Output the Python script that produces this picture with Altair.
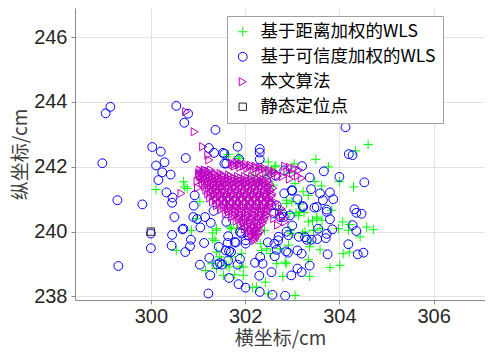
import altair as alt
import pandas as pd

series_names = ["基于距离加权的WLS", "基于可信度加权的WLS", "本文算法", "静态定位点"]
series_colors = ["#00ff00", "#0000ff", "#bf00bf", "#262626"]
plus_path = "M-1,0L1,0M0,-1L0,1"
series_shapes = [plus_path, "circle", "triangle-right", "square"]

x_ticks = [300, 302, 304, 306]
y_ticks = [238, 240, 242, 244, 246]

# 基于距离加权的WLS (green +)
green_x = [304.61, 304.34, 303.50, 303.77, 304.00, 304.30, 303.48, 303.62, 303.04, 302.65,
           302.48, 302.59, 302.94, 303.23, 302.88, 303.08, 303.25, 303.43, 303.63, 303.84,
           304.07, 304.19, 304.58, 304.72, 304.44, 304.08, 304.21, 304.01, 303.80, 303.59,
           303.37, 303.34, 303.37, 303.06, 302.87, 302.80, 302.67, 302.43, 302.16, 301.96,
           301.78, 301.66, 301.39, 301.16, 301.30, 301.46, 301.70, 301.92, 301.36, 301.31,
           301.39, 300.86, 300.54, 300.11, 300.69, 300.77, 301.04, 300.96, 301.64, 301.89,
           302.17, 302.28, 302.41, 302.32, 302.46, 302.53, 302.74, 302.98, 303.22, 303.45,
           303.16, 303.34, 302.99, 303.13, 303.52, 303.34, 304.22, 303.98, 303.59, 303.27,
           303.38, 302.85, 302.92, 301.85, 302.35, 301.31, 301.39, 301.71, 301.82, 301.50,
           301.60, 301.89, 301.54, 301.96, 302.35, 302.24, 302.49, 303.06, 302.88, 302.95,
           303.16, 302.74, 303.52, 302.95, 303.45, 300.72, 301.39, 301.68, 302.56, 302.63,
           302.49, 301.61]
green_y = [242.69, 242.49, 242.23, 242.00, 241.54, 241.38, 241.54, 241.41, 242.09, 242.03,
           241.75, 241.43, 241.81, 241.23, 240.97, 240.58, 240.59, 240.35, 240.35, 240.66,
           240.30, 240.04, 240.14, 240.06, 239.84, 239.32, 239.37, 238.96, 238.89, 239.44,
           239.53, 239.13, 238.62, 238.03, 239.01, 238.62, 239.01, 238.44, 238.27, 238.91,
           238.67, 238.91, 238.86, 238.80, 239.01, 239.22, 239.22, 239.32, 239.73, 239.96,
           240.09, 240.04, 239.42, 241.30, 241.54, 241.33, 240.92, 240.40, 242.38, 242.26,
           241.74, 241.54, 240.04, 239.63, 239.47, 239.32, 239.47, 239.94, 239.94, 240.04,
           240.85, 241.12, 240.92, 240.50, 240.45, 240.30, 240.22, 240.09, 240.09, 239.99,
           239.68, 239.06, 239.58, 242.31, 241.98, 239.78, 239.37, 240.09, 240.09, 239.11,
           238.96, 238.91, 238.65, 238.65, 239.42, 238.29, 238.08, 241.48, 240.87, 240.56,
           240.61, 240.66, 240.40, 240.04, 240.04, 241.38, 240.04, 240.14, 241.89, 242.00,
           242.15, 242.31]

# 基于可信度加权的WLS (blue o)
blue_x = [298.97, 299.04, 299.14, 299.29, 299.82, 299.31, 300.00, 300.00, 300.03, 300.21,
          300.11, 300.29, 300.24, 300.16, 300.42, 300.33, 300.46, 300.45, 300.50, 300.67,
          300.45, 300.44, 300.73, 300.83, 300.85, 300.54, 300.79, 300.71, 301.37, 300.74,
          301.23, 301.34, 301.04, 301.14, 300.93, 300.91, 300.98, 301.05, 301.13, 301.24,
          301.04, 301.26, 301.22, 301.41, 301.46, 301.44, 301.56, 301.56, 301.60, 301.84,
          301.87, 301.27, 301.33, 301.60, 301.64, 301.66, 301.70, 301.59, 301.66, 301.86,
          302.01, 301.89, 301.84, 301.80, 301.92, 302.01, 302.07, 302.01, 302.31, 302.31,
          302.31, 302.21, 302.32, 302.37, 302.30, 302.31, 302.58, 302.85, 302.56, 302.63,
          302.67, 302.71, 302.62, 302.48, 302.87, 302.91, 302.98, 303.11, 303.20, 303.37,
          303.11, 303.20, 303.00, 303.14, 303.31, 303.41, 303.53, 303.11, 303.22, 303.00,
          302.83, 302.83, 302.82, 303.21, 303.37, 303.40, 303.47, 303.59, 303.65, 303.67,
          303.73, 303.80, 303.80, 303.87, 303.85, 303.73, 303.71, 303.75, 304.00, 304.13,
          304.20, 304.28, 304.53, 304.32, 304.36, 304.47, 304.28, 304.36, 304.19, 304.39,
          304.51, 302.65, 302.45, 302.61, 302.79, 302.56, 301.51, 301.63, 301.64, 301.78,
          301.89, 301.53, 300.90, 301.15, 300.69, 302.99, 302.67, 302.74, 302.95, 303.23,
          303.52, 303.73, 303.55, 303.27, 302.92, 302.70, 302.88]
blue_y = [242.11, 243.65, 243.85, 240.97, 240.84, 238.94, 239.94, 239.49, 242.61, 242.47,
          242.04, 242.14, 241.83, 241.59, 241.76, 241.21, 241.05, 240.89, 240.45, 240.07,
          239.90, 239.57, 239.37, 239.55, 239.75, 243.88, 243.64, 243.36, 243.14, 242.27,
          242.58, 242.43, 241.74, 241.84, 241.12, 240.80, 240.39, 240.13, 239.65, 239.19,
          238.98, 238.65, 238.09, 238.99, 239.03, 239.53, 242.40, 242.10, 242.10, 242.62,
          242.24, 240.27, 240.64, 240.30, 239.86, 239.40, 239.37, 239.42, 238.57, 238.38,
          238.27, 239.16, 238.98, 239.66, 239.94, 239.73, 239.89, 239.63, 242.55, 242.44,
          242.23, 239.04, 239.22, 239.01, 238.64, 238.14, 238.05, 238.02, 238.75, 239.24,
          239.44, 239.84, 239.63, 239.67, 239.39, 239.35, 238.65, 238.86, 238.75, 238.95,
          239.42, 239.32, 240.19, 239.84, 239.75, 239.75, 239.77, 241.00, 240.79, 241.26,
          241.89, 241.18, 240.45, 242.02, 241.67, 241.31, 240.74, 241.18, 240.97, 241.86,
          240.68, 240.38, 241.21, 241.00, 240.07, 239.93, 239.80, 239.30, 241.69, 243.22,
          242.39, 242.36, 241.52, 240.69, 240.58, 240.55, 240.20, 240.02, 239.61, 239.30,
          239.35, 241.72, 241.59, 240.56, 240.56, 240.81, 238.98, 239.65, 239.11, 239.68,
          239.99, 242.43, 240.45, 240.45, 240.09, 241.28, 240.81, 240.45, 240.50, 240.76,
          240.76, 240.61, 240.09, 239.83, 239.89, 239.73, 240.00]

# 本文算法 (magenta >): outliers, upper band, right group, then the dense cluster row by row
tri_x = [300.75, 300.93, 301.11, 301.22, 301.24, 300.99, 300.65, 301.00,
         301.72, 301.82, 301.92, 302.02, 302.12, 302.22, 302.32, 302.42, 302.52, 302.62,
         301.78, 301.90, 302.05, 302.18, 302.30, 302.45, 302.58, 302.70,
         301.75, 301.87, 301.98, 302.10, 302.24, 302.37, 302.50, 302.63,
         302.85, 302.95, 303.05, 303.15, 302.90, 303.02, 303.12, 303.20, 302.80, 302.95,
         301.05, 301.15, 301.28,
         301.10, 301.22,
         301.02, 301.12, 301.22, 301.35, 301.48,
         301.08, 301.24, 301.38, 301.52, 301.66,
         301.05, 301.18, 301.30, 301.42, 301.55, 301.70, 301.85, 302.00, 302.15,
         301.12, 301.25, 301.38, 301.50, 301.64, 301.78, 301.92, 302.07, 302.22, 302.34,
         301.08, 301.20, 301.33, 301.45, 301.58, 301.72, 301.86, 302.00, 302.14, 302.28, 302.40,
         301.15, 301.28, 301.41, 301.55, 301.69, 301.83, 301.97, 302.11, 302.25, 302.38, 302.50,
         301.10, 301.22, 301.35, 301.48, 301.62, 301.76, 301.90, 302.04, 302.18, 302.32, 302.45,
         301.20, 301.34, 301.47, 301.60, 301.73, 301.87, 302.01, 302.15, 302.29, 302.43, 302.54,
         301.15, 301.28, 301.40, 301.53, 301.66, 301.80, 301.94, 302.08, 302.22, 302.36, 302.50,
         301.24, 301.38, 301.51, 301.65, 301.79, 301.93, 302.07, 302.21, 302.35, 302.49, 302.60,
         301.18, 301.32, 301.45, 301.58, 301.72, 301.86, 302.00, 302.14, 302.28, 302.42, 302.55,
         301.28, 301.42, 301.56, 301.70, 301.84, 301.98, 302.12, 302.26, 302.40, 302.53,
         301.22, 301.36, 301.50, 301.63, 301.77, 301.91, 302.05, 302.19, 302.33, 302.47, 302.58,
         301.33, 301.47, 301.61, 301.75, 301.89, 302.03, 302.17, 302.31, 302.45, 302.57,
         301.26, 301.40, 301.54, 301.68, 301.82, 301.96, 302.10, 302.24, 302.38, 302.52,
         301.38, 301.52, 301.66, 301.80, 301.94, 302.08, 302.22, 302.36, 302.50,
         301.32, 301.46, 301.60, 301.74, 301.88, 302.02, 302.16, 302.30, 302.44, 302.56,
         301.46, 301.60, 301.74, 301.88, 302.02, 302.16, 302.30, 302.44, 302.56,
         301.40, 301.54, 301.68, 301.82, 301.96, 302.10, 302.24, 302.38, 302.52,
         301.56, 301.70, 301.84, 301.98, 302.12, 302.26, 302.40, 302.52,
         301.50, 301.64, 301.78, 301.92, 302.06, 302.20, 302.34, 302.48,
         301.66, 301.80, 301.94, 302.08, 302.22, 302.36, 302.48,
         301.60, 301.74, 301.88, 302.02, 302.16, 302.30, 302.44,
         301.78, 301.92, 302.06, 302.20, 302.34, 302.46,
         301.72, 301.86, 302.00, 302.14, 302.28, 302.42,
         301.88, 302.02, 302.16, 302.30, 302.42,
         301.82, 301.96, 302.10, 302.24, 302.38,
         301.98, 302.12, 302.26, 302.38,
         301.92, 302.06, 302.20, 302.34,
         302.05, 302.18, 302.30,
         302.00, 302.12, 302.26,
         302.12, 302.24, 302.34,
         302.08, 302.20, 302.30,
         302.18, 302.28,
         302.14, 302.24,
         302.22,
         302.20,
         302.65, 302.72, 302.80, 302.85, 302.70, 302.62, 302.78]
tri_y = [243.70, 243.08, 242.62, 242.36, 242.21, 241.55, 241.18, 241.35,
         242.12, 242.14, 242.10, 242.08, 242.05, 242.02, 241.98, 241.95, 241.90, 241.86,
         242.02, 241.98, 241.95, 241.92, 241.86, 241.82, 241.76, 241.72,
         242.06, 242.06, 242.02, 241.99, 241.96, 241.91, 241.86, 241.80,
         242.02, 241.98, 241.95, 241.90, 241.85, 241.80, 241.72, 241.65, 241.70, 241.62,
         241.90, 241.90, 241.90,
         241.85, 241.85,
         241.80, 241.80, 241.80, 241.80, 241.80,
         241.75, 241.75, 241.75, 241.75, 241.75,
         241.70, 241.70, 241.70, 241.70, 241.70, 241.70, 241.70, 241.70, 241.70,
         241.65, 241.65, 241.65, 241.65, 241.65, 241.65, 241.65, 241.65, 241.65, 241.65,
         241.60, 241.60, 241.60, 241.60, 241.60, 241.60, 241.60, 241.60, 241.60, 241.60, 241.60,
         241.55, 241.55, 241.55, 241.55, 241.55, 241.55, 241.55, 241.55, 241.55, 241.55, 241.55,
         241.50, 241.50, 241.50, 241.50, 241.50, 241.50, 241.50, 241.50, 241.50, 241.50, 241.50,
         241.45, 241.45, 241.45, 241.45, 241.45, 241.45, 241.45, 241.45, 241.45, 241.45, 241.45,
         241.40, 241.40, 241.40, 241.40, 241.40, 241.40, 241.40, 241.40, 241.40, 241.40, 241.40,
         241.34, 241.34, 241.34, 241.34, 241.34, 241.34, 241.34, 241.34, 241.34, 241.34, 241.34,
         241.28, 241.28, 241.28, 241.28, 241.28, 241.28, 241.28, 241.28, 241.28, 241.28, 241.28,
         241.22, 241.22, 241.22, 241.22, 241.22, 241.22, 241.22, 241.22, 241.22, 241.22,
         241.16, 241.16, 241.16, 241.16, 241.16, 241.16, 241.16, 241.16, 241.16, 241.16, 241.16,
         241.10, 241.10, 241.10, 241.10, 241.10, 241.10, 241.10, 241.10, 241.10, 241.10,
         241.04, 241.04, 241.04, 241.04, 241.04, 241.04, 241.04, 241.04, 241.04, 241.04,
         240.98, 240.98, 240.98, 240.98, 240.98, 240.98, 240.98, 240.98, 240.98,
         240.92, 240.92, 240.92, 240.92, 240.92, 240.92, 240.92, 240.92, 240.92, 240.92,
         240.86, 240.86, 240.86, 240.86, 240.86, 240.86, 240.86, 240.86, 240.86,
         240.80, 240.80, 240.80, 240.80, 240.80, 240.80, 240.80, 240.80, 240.80,
         240.74, 240.74, 240.74, 240.74, 240.74, 240.74, 240.74, 240.74,
         240.68, 240.68, 240.68, 240.68, 240.68, 240.68, 240.68, 240.68,
         240.62, 240.62, 240.62, 240.62, 240.62, 240.62, 240.62,
         240.56, 240.56, 240.56, 240.56, 240.56, 240.56, 240.56,
         240.50, 240.50, 240.50, 240.50, 240.50, 240.50,
         240.44, 240.44, 240.44, 240.44, 240.44, 240.44,
         240.38, 240.38, 240.38, 240.38, 240.38,
         240.32, 240.32, 240.32, 240.32, 240.32,
         240.26, 240.26, 240.26, 240.26,
         240.20, 240.20, 240.20, 240.20,
         240.14, 240.14, 240.14,
         240.08, 240.08, 240.08,
         240.02, 240.02, 240.02,
         239.96, 239.96, 239.96,
         239.90, 239.90,
         239.84, 239.84,
         239.78,
         239.72,
         240.90, 240.60, 240.45, 240.30, 240.20, 240.40, 240.70]

# 静态定位点 (black square)
static_x = [300.0]
static_y = [240.0]

frames = []
for name, xs, ys in [(series_names[0], green_x, green_y),
                     (series_names[1], blue_x, blue_y),
                     (series_names[2], tri_x, tri_y),
                     (series_names[3], static_x, static_y)]:
    frames.append(pd.DataFrame({"x": xs, "y": ys, "series": name}))
df = pd.concat(frames, ignore_index=True)

legend = alt.Legend(
    title=None, orient="none", legendX=152, legendY=8, direction="vertical",
    fillColor="white", strokeColor="#a0a0a0", padding=7,
    labelFont="Noto Sans CJK SC", labelFontSize=17.5, labelColor="#000000", labelLimit=400,
    symbolSize=70, symbolStrokeWidth=1.6, rowPadding=6, labelOffset=9,
    labelExpr="datum.label + '\u2003'",
)

chart = alt.Chart(df).mark_point(filled=False, clip=True, opacity=1).encode(
    x=alt.X("x:Q", scale=alt.Scale(domain=[298.39, 307.09], nice=False, zero=False),
            axis=alt.Axis(values=x_ticks, title="横坐标/cm", format="d")),
    y=alt.Y("y:Q", scale=alt.Scale(domain=[237.89, 246.9], nice=False, zero=False),
            axis=alt.Axis(values=y_ticks, title="纵坐标/cm", format="d")),
    color=alt.Color("series:N", scale=alt.Scale(domain=series_names, range=series_colors), legend=legend),
    shape=alt.Shape("series:N", scale=alt.Scale(domain=series_names, range=series_shapes), legend=legend),
    size=alt.Size("series:N", scale=alt.Scale(domain=series_names, range=[90, 54, 90, 64]), legend=None),
    strokeWidth=alt.StrokeWidth("series:N", scale=alt.Scale(domain=series_names, range=[1, 1, 1.1, 2.2]), legend=None),
).properties(
    width=410, height=292,
    autosize=alt.AutoSizeParams(type="none"),
    padding={"left": 67, "top": 0, "right": 0, "bottom": 49},
).configure_view(stroke=None).configure_axis(
    labelFont="Liberation Sans", labelFontSize=20, labelColor="#262626",
    titleFont="Noto Sans CJK SC", titleFontSize=19, titleColor="#404040", titleFontWeight="normal",
    gridColor="#e3e3e3", domainColor="#8a8a8a", tickColor="#8a8a8a", tickSize=4,
).configure_axisX(labelPadding=2, titlePadding=3).configure_axisY(labelPadding=4, titlePadding=3)

chart.save("out.html", embed_options={"renderer": "svg", "actions": False})
